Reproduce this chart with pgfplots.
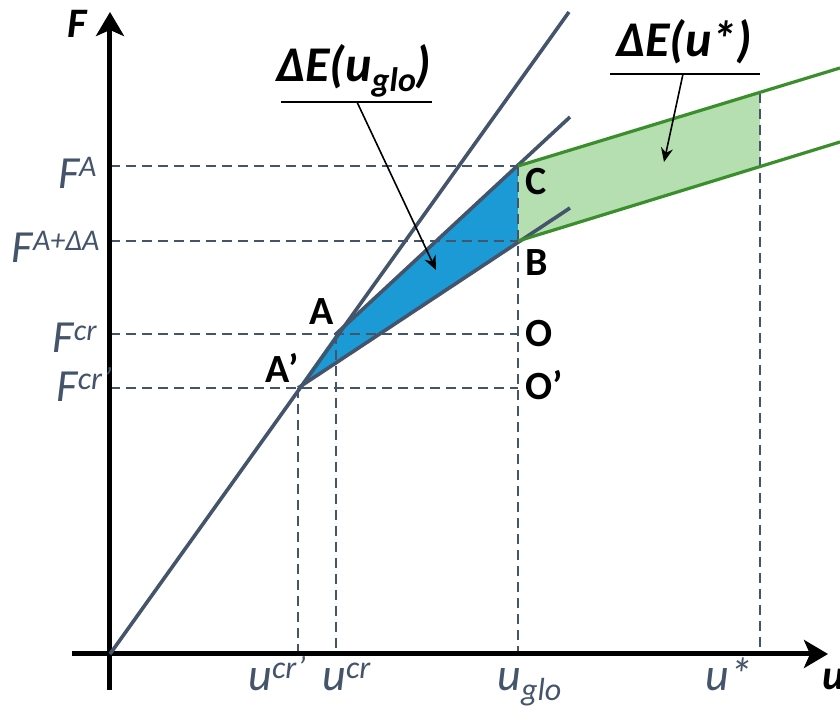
\documentclass[border=0pt]{standalone}
\usepackage{pgfplots}
\pgfplotsset{compat=1.18}
\usetikzlibrary{arrows.meta}
\usepackage{fontspec}
\setmainfont{Carlito}

\definecolor{slate}{HTML}{44546A}
\definecolor{fillblue}{HTML}{1B9AD6}
\definecolor{gline}{HTML}{3A8F2C}
\definecolor{gfill}{HTML}{B5DFB0}

% raised / lowered small text for the labels
\newcommand{\up}[2][15]{\raisebox{6pt}{\fontsize{#1}{#1}\selectfont #2}}
\newcommand{\dn}[2][15]{\raisebox{-5pt}{\fontsize{#1}{#1}\selectfont #2}}

\tikzset{
    guide/.style={slate, line width=1pt, dash pattern=on 5pt off 3pt},
    tl/.style={anchor=base east, inner sep=0, text=slate, font=\fontsize{23}{27}\selectfont\itshape},
    pl/.style={inner sep=0, font=\fontsize{20}{24}\selectfont\bfseries},
    ax/.style={black, line width=2.5pt, -{Stealth[length=12pt,width=14pt,inset=3pt]}},
}

\begin{document}
\begin{tikzpicture}
\begin{axis}[
    x=0.5pt, y=0.5pt,
    xmin=-38, xmax=718, ymin=-36, ymax=642,
    axis lines=none,
    clip=false,
]
% filled areas
\addplot[fill=fillblue, draw=none] coordinates {(188,266) (226,320) (408,488) (408,413)} -- cycle;
\addplot[fill=gfill, draw=none] coordinates {(408,488) (650,561) (650,487) (408,413)} -- cycle;

% dashed guides
\addplot[guide] coordinates {(0,488) (408,488)};
\addplot[guide] coordinates {(0,413) (408,413)};
\addplot[guide] coordinates {(0,320) (408,320)};
\addplot[guide] coordinates {(0,266) (408,266)};
\addplot[guide] coordinates {(188,266) (188,0)};
\addplot[guide] coordinates {(226,320) (226,0)};
\addplot[guide] coordinates {(408,488) (408,0)};
\addplot[guide] coordinates {(650,561) (650,0)};

% axes
\addplot[ax] coordinates {(-38,0) (718,0)};
\addplot[ax] coordinates {(0,-36) (0,642)};

% curves
\addplot[slate, line width=1.8pt] coordinates {(0,0) (459,642)};
\addplot[slate, line width=1.8pt] coordinates {(226,320) (460,537)};
\addplot[slate, line width=1.8pt] coordinates {(188,266) (460,446)};
\addplot[gline, line width=1.6pt] coordinates {(408,488) (730,586)};
\addplot[gline, line width=1.6pt] coordinates {(408,413) (730,512)};

% axis labels
\node[tl] at (axis cs:-13,465) {F\up{A}};
\node[tl] at (axis cs:-10,391) {F\up{A+ΔA}};
\node[tl] at (axis cs:-13,301) {F\up{cr}};
\node[tl] at (axis cs:2,252) {F\up[16]{cr’}};
\node[tl, anchor=base west] at (axis cs:138,-37) {u\up[16]{cr’}};
\node[tl, anchor=base west] at (axis cs:212,-37) {u\up[16]{cr}};
\node[tl, anchor=base west] at (axis cs:387,-37) {u\dn[16]{glo}};
\node[tl, anchor=base west] at (axis cs:595,-37) {u*};
\node[inner sep=0, anchor=base west, font=\fontsize{21}{24}\selectfont\bfseries\itshape] at (axis cs:-43,616) {F};
\node[inner sep=0, anchor=base west, font=\fontsize{21}{24}\selectfont\bfseries\itshape] at (axis cs:712,-36) {u};

% point labels
\node[pl, anchor=base] at (axis cs:212,329) {A};
\node[pl, anchor=base] at (axis cs:172,271) {A’};
\node[pl, anchor=base west] at (axis cs:415,459) {C};
\node[pl, anchor=base west] at (axis cs:415,378) {B};
\node[pl, anchor=base west] at (axis cs:415,307) {O};
\node[pl, anchor=base west] at (axis cs:415,254) {O’};

% callouts
\node[inner sep=0, anchor=base, font=\fontsize{25}{30}\selectfont\bfseries\itshape] at (axis cs:244,572) {ΔE(u\dn[17]{glo})};
\draw[line width=0.8pt] (axis cs:171,552) -- (axis cs:322,552);
\draw[line width=0.8pt, -{Stealth[length=7pt,width=6pt]}] (axis cs:247,552) -- (axis cs:326,384);
\node[inner sep=0, anchor=base, font=\fontsize{25}{30}\selectfont\bfseries\itshape] at (axis cs:574,597) {ΔE(u*)};
\draw[line width=0.8pt] (axis cs:500,580) -- (axis cs:650,580);
\draw[line width=0.8pt, -{Stealth[length=7pt,width=6pt]}] (axis cs:573,580) -- (axis cs:554,492);

\coordinate (bl) at (axis cs:-110,-52);
\coordinate (tr) at (axis cs:730,654);
\end{axis}
\pgfresetboundingbox
\useasboundingbox (bl) rectangle (tr);
\end{tikzpicture}
\end{document}
